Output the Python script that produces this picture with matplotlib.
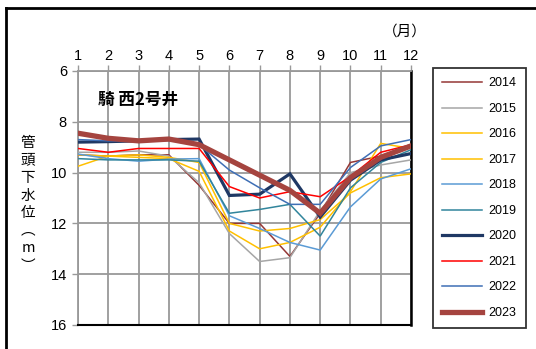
import matplotlib
matplotlib.use("Agg")
import matplotlib.pyplot as plt
from matplotlib.lines import Line2D

months = list(range(1, 13))
years = ["2014", "2015", "2016", "2017", "2018", "2019", "2020", "2021", "2022", "2023"]

v2014 = [9.3, 9.35, 9.3, 9.3, 10.5, 12.0, 12.0, 13.3, 11.6, 9.6, 9.35, 8.95]
v2015 = [9.2, 9.2, 9.15, 9.35, 10.4, 12.4, 13.5, 13.35, 11.5, 10.0, 9.7, 9.5]
v2016 = [9.75, 9.35, 9.4, 9.45, 9.95, 12.3, 13.0, 12.75, 12.15, 10.75, 8.85, 9.05]
v2017 = [9.3, 9.35, 9.3, 9.4, 9.6, 12.0, 12.3, 12.2, 11.85, 10.8, 10.2, 10.05]
v2018 = [9.27, 9.45, 9.55, 9.47, 9.45, 11.7, 12.2, 12.75, 13.05, 11.35, 10.25, 9.85]
v2019 = [9.45, 9.5, 9.5, 9.5, 9.55, 11.6, 11.45, 11.25, 12.5, 10.6, 9.6, 9.1]
v2020 = [8.8, 8.78, 8.75, 8.7, 8.68, 10.9, 10.85, 10.05, 11.75, 10.3, 9.5, 9.25]
v2021 = [9.05, 9.2, 9.05, 9.05, 9.05, 10.55, 11.0, 10.75, 10.95, 10.15, 9.2, 8.9]
v2022 = [8.7, 8.75, 8.75, 8.7, 8.9, 9.9, 10.6, 11.25, 11.25, 9.8, 8.95, 8.7]
v2023 = [8.45, 8.65, 8.75, 8.68, 8.9, 9.5, 10.1, 10.7, 11.6, 10.2, 9.4, 8.95]

series = [v2014, v2015, v2016, v2017, v2018, v2019, v2020, v2021, v2022, v2023]
colors = ["#953735", "#A6A6A6", "#FFC000", "#FFC000", "#5B9BD5",
          "#31859C", "#1F3864", "#FF0000", "#3F6FB5", "#A5443F"]
widths = [1.1, 1.1, 1.1, 1.1, 1.1, 1.1, 2.3, 1.1, 1.1, 3.8]

yticks = [6, 8, 10, 12, 14, 16]
title = "騎 西2号井"
ylabel_chars = ["管", "頭", "下", "水", "位", "︵", "m", "︶"]

W, H = 536, 349
fig = plt.figure(figsize=(W / 100, H / 100), dpi=100)
ax = fig.add_axes([78 / W, 1 - 325 / H, (411 - 78) / W, (325 - 71) / H])

for vals, c, lw, yr in zip(series, colors, widths, years):
    ax.plot(months, vals, color=c, lw=lw, label=yr, solid_joinstyle="miter", zorder=3)

ax.set_xlim(1, 12)
ax.set_ylim(16, 6)
ax.set_xticks(months)
ax.set_yticks(yticks)
ax.xaxis.tick_top()
ax.grid(True, color="#999999", lw=1.3, zorder=0)
ax.tick_params(axis="both", colors="#999999", length=4, width=1, labelcolor="black",
               labelsize=10.5)
for lab in ax.get_xticklabels() + ax.get_yticklabels():
    lab.set_fontfamily("Liberation Sans")
ax.tick_params(axis="x", pad=2)
ax.tick_params(axis="y", pad=4)
for s in ["left", "top"]:
    ax.spines[s].set_color("#999999")
    ax.spines[s].set_linewidth(1.3)
ax.spines["right"].set_color("black")
ax.spines["right"].set_linewidth(1.8)
ax.spines["bottom"].set_color("black")
ax.spines["bottom"].set_linewidth(1.5)

fig.text(98 / W, 1 - 100 / H, title, fontsize=12,
         fontweight="bold", family=["Noto Sans CJK JP", "DejaVu Sans"],
         va="center", ha="left")

fig.text(405 / W, 1 - 32 / H, "（月）", fontsize=10.5,
         family=["Noto Sans CJK JP", "DejaVu Sans"], ha="center", va="center")

y0 = 143
for i, ch in enumerate(ylabel_chars):
    fig.text(28 / W, 1 - (y0 + i * 17.5) / H, ch, fontsize=10.5,
             family=["Noto Sans CJK JP", "DejaVu Sans"], ha="center", va="center")

leg = fig.legend(loc="upper left", bbox_to_anchor=(433 / W, 1 - 68 / H),
                 bbox_transform=fig.transFigure, frameon=True, fancybox=False,
                 edgecolor="black", fontsize=9, handlelength=3.2, handletextpad=0.5,
                 labelspacing=1.08, borderpad=0.75, borderaxespad=0)
leg.get_frame().set_linewidth(1.3)
for t in leg.get_texts():
    t.set_fontfamily("Liberation Sans")

fig.add_artist(Line2D([6 / W, 6 / W], [0, 1 - 8 / H], transform=fig.transFigure,
                      color="black", lw=2))
fig.add_artist(Line2D([6 / W, 1], [1 - 8 / H, 1 - 8 / H], transform=fig.transFigure,
                      color="black", lw=2))

fig.savefig("out.png", dpi=100)
